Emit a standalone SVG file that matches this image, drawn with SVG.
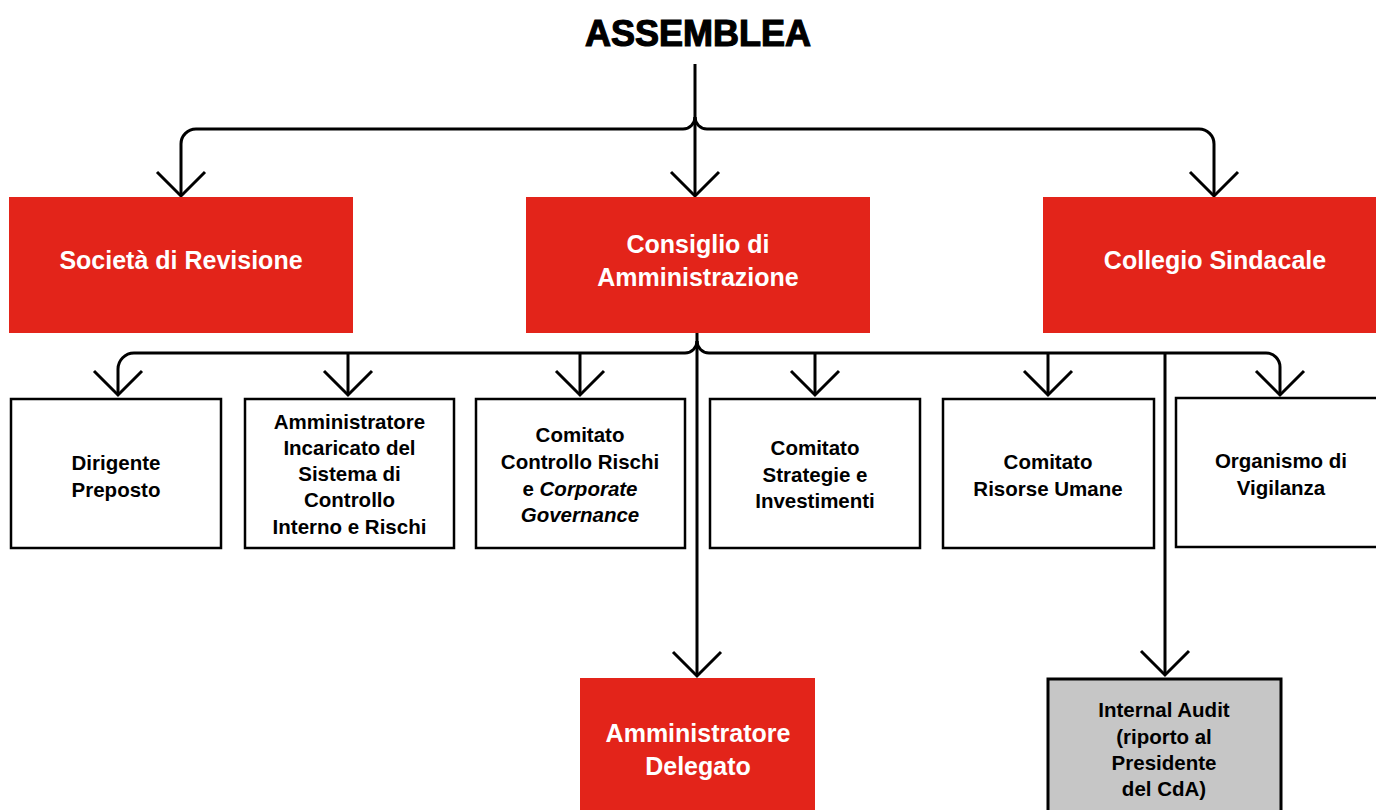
<svg xmlns="http://www.w3.org/2000/svg" width="1376" height="810" viewBox="0 0 1376 810">
<style>
.red{fill:#e3241a}
.box{fill:#fff;stroke:#000;stroke-width:2.5}
.grey{fill:#c6c6c6;stroke:#000;stroke-width:3}
.c{fill:none;stroke:#000;stroke-width:3}
.t{font-family:"Liberation Sans",Arial,sans-serif;font-weight:bold;text-anchor:middle;font-size:20.5px;fill:#000}
.w{font-family:"Liberation Sans",Arial,sans-serif;font-weight:bold;text-anchor:middle;font-size:25px;fill:#fff}
.title{font-family:"Liberation Sans",Arial,sans-serif;font-weight:bold;text-anchor:middle;font-size:36px;fill:#000;stroke:#000;stroke-width:1.2}
</style>
<defs>
<marker id="arr" markerUnits="userSpaceOnUse" viewBox="-28 -28 32 56" refX="0" refY="0" markerWidth="32" markerHeight="56" orient="auto">
<path d="M-24,-24 L0,0 L-24,24" fill="none" stroke="#000" stroke-width="3"/>
</marker>
</defs>
<g id="assemblea"><text class="title" x="698" y="46">ASSEMBLEA</text></g>
<g id="connectors">
<path class="c" d="M695 64 V196" marker-end="url(#arr)"/>
<path class="c" d="M695 117 A12 12 0 0 1 683 129 H196 A15 15 0 0 0 181 144 V196" marker-end="url(#arr)"/>
<path class="c" d="M695 117 A12 12 0 0 0 707 129 H1199 A15 15 0 0 1 1214 144 V196" marker-end="url(#arr)"/>
<path class="c" d="M697 333 V676" marker-end="url(#arr)"/>
<path class="c" d="M697 341 A12 12 0 0 1 685 353 H134 A16 16 0 0 0 118 369 V395" marker-end="url(#arr)"/>
<path class="c" d="M697 341 A12 12 0 0 0 709 353 H1266 A14 14 0 0 1 1280 367 V395" marker-end="url(#arr)"/>
<path class="c" d="M348 353 V395" marker-end="url(#arr)"/>
<path class="c" d="M580 353 V395" marker-end="url(#arr)"/>
<path class="c" d="M815 353 V395" marker-end="url(#arr)"/>
<path class="c" d="M1048 353 V395" marker-end="url(#arr)"/>
<path class="c" d="M1165 353 V675" marker-end="url(#arr)"/>
</g>
<g id="societa-revisione"><rect class="red" x="9" y="197" width="344" height="136"/><text class="w" x="181" y="269">Società di Revisione</text></g>
<g id="cda"><rect class="red" x="526" y="197" width="344" height="136"/><text class="w" x="698" y="253">Consiglio di</text><text class="w" x="698" y="286">Amministrazione</text></g>
<g id="collegio-sindacale"><rect class="red" x="1043" y="197" width="340" height="136"/><text class="w" x="1215" y="269">Collegio Sindacale</text></g>
<g id="dirigente-preposto"><rect class="box" x="11" y="399" width="210" height="149"/><text class="t" x="116" y="470">Dirigente</text><text class="t" x="116" y="497">Preposto</text></g>
<g id="amministratore-incaricato"><rect class="box" x="245" y="399" width="209" height="149"/><text class="t" x="349.5" y="429">Amministratore</text><text class="t" x="349.5" y="455">Incaricato del</text><text class="t" x="349.5" y="481">Sistema di</text><text class="t" x="349.5" y="507">Controllo</text><text class="t" x="349.5" y="534">Interno e Rischi</text></g>
<g id="comitato-controllo-rischi"><rect class="box" x="476" y="399" width="209" height="149"/><text class="t" x="580" y="442">Comitato</text><text class="t" x="580" y="469">Controllo Rischi</text><text class="t" x="580" y="496">e <tspan font-style="italic">Corporate</tspan></text><text class="t" x="580" y="522" font-style="italic">Governance</text></g>
<g id="comitato-strategie"><rect class="box" x="710" y="399" width="210" height="149"/><text class="t" x="815" y="455">Comitato</text><text class="t" x="815" y="482">Strategie e</text><text class="t" x="815" y="508">Investimenti</text></g>
<g id="comitato-risorse-umane"><rect class="box" x="943" y="399" width="211" height="149"/><text class="t" x="1048" y="469">Comitato</text><text class="t" x="1048" y="496">Risorse Umane</text></g>
<g id="organismo-vigilanza"><rect class="box" x="1176" y="398" width="210" height="149"/><text class="t" x="1281" y="468">Organismo di</text><text class="t" x="1281" y="495">Vigilanza</text></g>
<g id="amministratore-delegato"><rect class="red" x="580" y="678" width="235" height="140"/><text class="w" x="698" y="742" font-size="26">Amministratore</text><text class="w" x="698" y="775" font-size="26">Delegato</text></g>
<g id="internal-audit"><rect class="grey" x="1048" y="679" width="233" height="140"/><text class="t" x="1164" y="717">Internal Audit</text><text class="t" x="1164" y="744">(riporto al</text><text class="t" x="1164" y="770">Presidente</text><text class="t" x="1164" y="796">del CdA)</text></g>
</svg>
